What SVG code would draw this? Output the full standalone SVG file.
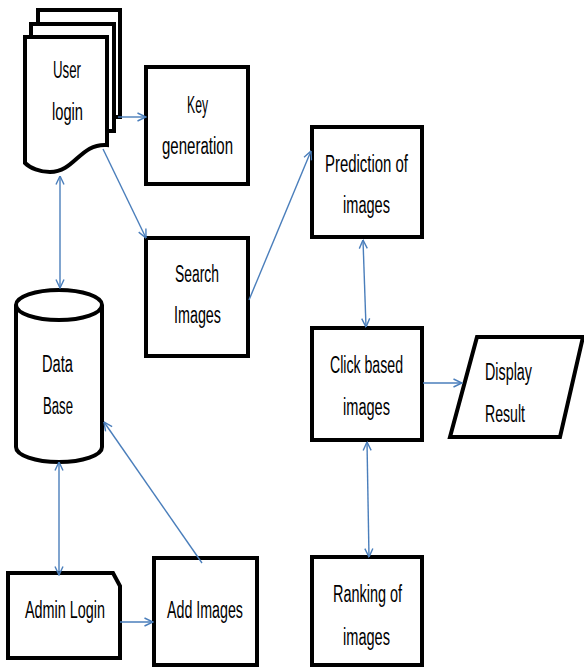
<svg xmlns="http://www.w3.org/2000/svg" width="584" height="668" viewBox="0 0 584 668">
<style>
.n{fill:#fff;stroke:#000;stroke-width:4;stroke-linejoin:miter}
.t{font-family:"Liberation Sans",Arial,sans-serif;font-size:23px;fill:#000}
.c line{stroke:#4a7ebb;stroke-width:1.4;fill:none}
</style>
<defs>
<marker id="a" viewBox="0 0 10 10" refX="9.5" refY="5" markerWidth="10" markerHeight="10" markerUnits="userSpaceOnUse" orient="auto-start-reverse">
<polyline points="1,1 9.5,5 1,9" fill="none" stroke="#4a7ebb" stroke-width="1.4"/>
</marker>
</defs>
<rect width="584" height="668" fill="#fff"/>
<g id="user-login">
<path class="n" d="M38,24 V10 H120 V117 H114" fill="none"/>
<path class="n" d="M31,37 V24 H114 V131 H107"/>
<path class="n" d="M25,37 H107 V145 C80,143 75,172 50,172 C40,172 30,168 25,163 Z"/>
<text class="t" x="53" y="78" textLength="28" lengthAdjust="spacingAndGlyphs">User</text>
<text class="t" x="52" y="120" textLength="31" lengthAdjust="spacingAndGlyphs">login</text>
</g>
<g id="key-generation">
<rect class="n" x="146" y="67" width="102" height="117"/>
<text class="t" x="187" y="113" textLength="21" lengthAdjust="spacingAndGlyphs">Key</text>
<text class="t" x="162" y="154" textLength="71" lengthAdjust="spacingAndGlyphs">generation</text>
</g>
<g id="search-images">
<rect class="n" x="146" y="238" width="102" height="118"/>
<text class="t" x="175" y="282" textLength="44" lengthAdjust="spacingAndGlyphs">Search</text>
<text class="t" x="174" y="323" textLength="47" lengthAdjust="spacingAndGlyphs">Images</text>
</g>
<g id="prediction">
<rect class="n" x="312" y="127" width="110" height="110"/>
<text class="t" x="325" y="172" textLength="83" lengthAdjust="spacingAndGlyphs">Prediction of</text>
<text class="t" x="343" y="213" textLength="47" lengthAdjust="spacingAndGlyphs">images</text>
</g>
<g id="click-based">
<rect class="n" x="312" y="328" width="110" height="112"/>
<text class="t" x="330" y="373" textLength="73" lengthAdjust="spacingAndGlyphs">Click based</text>
<text class="t" x="343" y="415" textLength="47" lengthAdjust="spacingAndGlyphs">images</text>
</g>
<g id="display-result">
<path class="n" d="M477,337 H583 L560,437 H450 Z"/>
<text class="t" x="485" y="380" textLength="47" lengthAdjust="spacingAndGlyphs">Display</text>
<text class="t" x="485" y="422" textLength="40" lengthAdjust="spacingAndGlyphs">Result</text>
</g>
<g id="ranking">
<rect class="n" x="312" y="557" width="110" height="108"/>
<text class="t" x="333" y="602" textLength="69" lengthAdjust="spacingAndGlyphs">Ranking of</text>
<text class="t" x="343" y="645" textLength="47" lengthAdjust="spacingAndGlyphs">images</text>
</g>
<g id="database">
<path class="n" d="M16,305 V447 A43,15 0 0 0 102,447 V305"/>
<ellipse class="n" cx="59" cy="305" rx="43" ry="15"/>
<text class="t" x="42" y="372" textLength="31" lengthAdjust="spacingAndGlyphs">Data</text>
<text class="t" x="43" y="414" textLength="30" lengthAdjust="spacingAndGlyphs">Base</text>
</g>
<g id="admin-login">
<path class="n" d="M8,573 H113 L120,586 V658 H8 Z"/>
<text class="t" x="25" y="618" textLength="80" lengthAdjust="spacingAndGlyphs">Admin Login</text>
</g>
<g id="add-images">
<rect class="n" x="154" y="558" width="103" height="107"/>
<text class="t" x="167" y="618" textLength="76" lengthAdjust="spacingAndGlyphs">Add Images</text>
</g>
<g id="connectors" class="c">
<line x1="118" y1="117" x2="146" y2="117" marker-end="url(#a)"/>
<line x1="103" y1="149" x2="146" y2="238" marker-end="url(#a)"/>
<line x1="60" y1="176" x2="60" y2="288" marker-start="url(#a)" marker-end="url(#a)"/>
<line x1="249" y1="300" x2="311" y2="151" marker-end="url(#a)"/>
<line x1="363" y1="240" x2="366" y2="327" marker-start="url(#a)" marker-end="url(#a)"/>
<line x1="423" y1="383" x2="462" y2="383" marker-end="url(#a)"/>
<line x1="367" y1="442" x2="369" y2="557" marker-start="url(#a)" marker-end="url(#a)"/>
<line x1="59" y1="462" x2="59" y2="575" marker-start="url(#a)" marker-end="url(#a)"/>
<line x1="120" y1="622" x2="153" y2="622" marker-end="url(#a)"/>
<line x1="202" y1="563" x2="104" y2="422" marker-end="url(#a)"/>
</g>
</svg>
